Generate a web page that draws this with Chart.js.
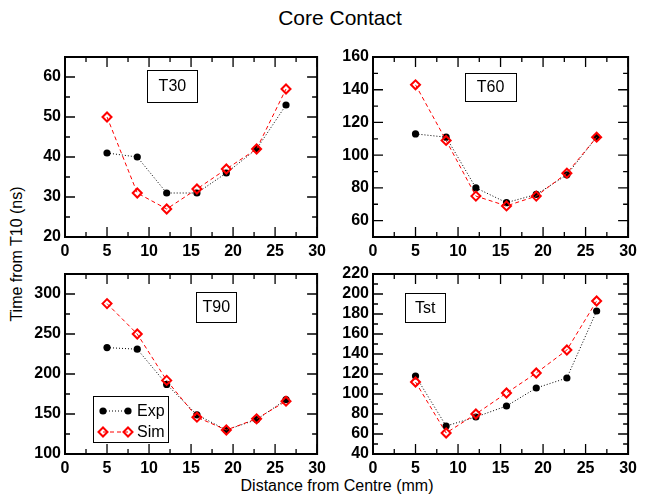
<!DOCTYPE html>
<html>
<head>
<meta charset="utf-8">
<script src="https://cdn.jsdelivr.net/npm/chart.js@4.4.1/dist/chart.umd.min.js"></script>
<style>
  body { margin: 0; background: #fff; width: 652px; height: 495px; position: relative; overflow: hidden;
         font-family: "Liberation Sans", Arial, sans-serif; color: #000; }
  canvas { position: absolute; }
  .title { position: absolute; left: 190px; width: 300px; top: 6px; text-align: center; font-size: 21px; }
  .xlabel { position: absolute; left: 187px; width: 300px; top: 477px; text-align: center; font-size: 16px; }
  .ylabel { position: absolute; left: -83px; width: 200px; top: 245px; text-align: center; font-size: 16px;
            transform: rotate(-90deg); }
</style>
</head>
<body>
<div class="title">Core Contact</div>
<div class="ylabel">Time from T10 (ns)</div>
<div class="xlabel">Distance from Centre (mm)</div>
<canvas id="p1"></canvas>
<canvas id="p2"></canvas>
<canvas id="p3"></canvas>
<canvas id="p4"></canvas>
<script>
// Data
const xDist = [5, 8.6, 12.1, 15.7, 19.2, 22.8, 26.3];
const xTicks = [0, 5, 10, 15, 20, 25, 30];

const t30Exp = [41, 40, 31, 31, 36, 42, 53];
const t30Sim = [50, 31, 27, 32, 37, 42, 57];
const t30Ticks = [20, 30, 40, 50, 60];

const t60Exp = [113, 111, 80, 71, 76, 88, 111];
const t60Sim = [143, 109, 75, 69, 75, 89, 111];
const t60Ticks = [60, 80, 100, 120, 140, 160];

const t90Exp = [233, 231, 187, 149, 130, 143, 168];
const t90Sim = [288, 250, 192, 146, 130, 144, 166];
const t90Ticks = [100, 150, 200, 250, 300];

const tstExp = [118, 68, 77, 88, 106, 116, 183];
const tstSim = [112, 61, 80, 101, 121, 144, 193];
const tstTicks = [40, 60, 80, 100, 120, 140, 160, 180, 200, 220];

const seriesNames = ['Exp', 'Sim'];

const FONT = '"Liberation Sans", Arial, sans-serif';
const PAD = { left: 65, right: 10, top: 17, bottom: 38 };

// frame, inward ticks, tag box and legend
const framePlugin = {
  id: 'frame',
  afterDatasetsDraw(chart, args, o) {
    const { ctx, chartArea: a, scales: { x, y } } = chart;
    ctx.save();
    ctx.strokeStyle = '#000';
    ctx.lineWidth = 1.3;
    ctx.beginPath();
    const minorVals = (s, step, major) => {
      const out = [];
      for (let v = s.min; v <= s.max + 1e-9; v += step) {
        if (!major.includes(Math.round(v * 100) / 100)) out.push(v);
      }
      return out;
    };
    const xMarks = (vals, len) => vals.forEach(v => {
      const px = x.getPixelForValue(v);
      ctx.moveTo(px, a.bottom); ctx.lineTo(px, a.bottom - len);
      ctx.moveTo(px, a.top); ctx.lineTo(px, a.top + len);
    });
    const yMarks = (vals, len) => vals.forEach(v => {
      const py = y.getPixelForValue(v);
      ctx.moveTo(a.left, py); ctx.lineTo(a.left + len, py);
      ctx.moveTo(a.right, py); ctx.lineTo(a.right - len, py);
    });
    xMarks(o.xMajor, 10);
    xMarks(minorVals(x, o.xMinor, o.xMajor), 5);
    yMarks(o.yMajor, 10);
    yMarks(minorVals(y, o.yMinor, o.yMajor), 5);
    ctx.stroke();

    ctx.lineWidth = 2;
    ctx.strokeRect(a.left, a.top, a.width, a.height);

    // tag box
    if (o.tag) {
      const t = o.tag;
      const cx = a.left + t.fx * a.width, cy = a.top + t.fy * a.height;
      ctx.lineWidth = 1;
      ctx.strokeRect(Math.round(cx - t.w / 2) + 0.5, Math.round(cy - t.h / 2) + 0.5, t.w, t.h);
      ctx.fillStyle = '#000';
      ctx.font = '16px ' + FONT;
      ctx.textAlign = 'center';
      ctx.textBaseline = 'middle';
      ctx.fillText(t.text, cx, cy + 1);
    }

    // legend
    if (o.legend) {
      const L = o.legend;
      const lx = a.left + L.dx, ly = a.top + L.dy;
      ctx.lineWidth = 1;
      ctx.strokeRect(Math.round(lx) + 0.5, Math.round(ly) + 0.5, L.w, L.h);
      const order = [1, 0];
      order.forEach((di, row) => {
        const ds = chart.data.datasets[di];
        const yy = ly + 15 + row * 21;
        const x1 = lx + 10, x2 = lx + 35;
        ctx.save();
        ctx.strokeStyle = ds.borderColor;
        ctx.lineWidth = ds.borderWidth;
        ctx.setLineDash(ds.borderDash);
        ctx.beginPath(); ctx.moveTo(x1, yy); ctx.lineTo(x2, yy); ctx.stroke();
        ctx.restore();
        [x1, x2].forEach(px => {
          ctx.save();
          ctx.fillStyle = ds.pointBackgroundColor;
          ctx.strokeStyle = ds.pointBorderColor;
          ctx.lineWidth = ds.pointBorderWidth;
          Chart.helpers.drawPoint(ctx, { pointStyle: ds.pointStyle, radius: ds.pointRadius,
                                         borderWidth: ds.pointBorderWidth, rotation: 0 }, px, yy);
          ctx.restore();
        });
        ctx.fillStyle = '#000';
        ctx.font = '16px ' + FONT;
        ctx.textAlign = 'left';
        ctx.textBaseline = 'middle';
        ctx.fillText(ds.label, lx + 44, yy + 1);
      });
    }
    ctx.restore();
  }
};

function makePanel(id, area, yMin, yMax, yTicks, yMinor, exp, sim, tag, legend) {
  const cv = document.getElementById(id);
  const w = area.right - area.left + PAD.left + PAD.right;
  const h = area.bottom - area.top + PAD.top + PAD.bottom;
  cv.width = w; cv.height = h;
  cv.style.left = (area.left - PAD.left) + 'px';
  cv.style.top = (area.top - PAD.top) + 'px';
  cv.style.width = w + 'px'; cv.style.height = h + 'px';

  const tickFont = { family: FONT, size: 16, weight: 'bold' };
  return new Chart(cv.getContext('2d'), {
    type: 'line',
    data: {
      datasets: [
        {
          label: seriesNames[1],
          data: xDist.map((d, i) => ({ x: d, y: sim[i] })),
          borderColor: '#ff0000', borderWidth: 1, borderDash: [4, 3],
          pointStyle: 'rectRot', pointRadius: 4.5, pointBorderWidth: 2,
          pointBorderColor: '#ff0000', pointBackgroundColor: 'rgba(255,255,255,0)',
          order: 0
        },
        {
          label: seriesNames[0],
          data: xDist.map((d, i) => ({ x: d, y: exp[i] })),
          borderColor: '#000', borderWidth: 1, borderDash: [1, 2],
          pointStyle: 'circle', pointRadius: 3.6, pointBorderWidth: 0,
          pointBorderColor: '#000', pointBackgroundColor: '#000',
          order: 1
        }
      ]
    },
    options: {
      responsive: false,
      animation: false,
      events: [],
      layout: { padding: { left: 0, right: PAD.right, top: PAD.top, bottom: 0 } },
      plugins: {
        legend: { display: false },
        tooltip: { enabled: false },
        frame: { xMajor: xTicks, xMinor: 2.5, yMajor: yTicks, yMinor: yMinor, tag: tag, legend: legend }
      },
      scales: {
        x: {
          type: 'linear', min: 0, max: 30,
          afterBuildTicks: s => { s.ticks = xTicks.map(v => ({ value: v })); },
          afterFit: s => { s.height = PAD.bottom; },
          grid: { display: false, drawTicks: false },
          border: { display: false },
          ticks: { color: '#000', font: tickFont, padding: 5, autoSkip: false, maxRotation: 0 }
        },
        y: {
          type: 'linear', min: yMin, max: yMax,
          afterBuildTicks: s => { s.ticks = yTicks.map(v => ({ value: v })); },
          afterFit: s => { s.width = PAD.left; },
          grid: { display: false, drawTicks: false },
          border: { display: false },
          ticks: { color: '#000', font: tickFont, padding: 4, autoSkip: false }
        }
      }
    },
    plugins: [framePlugin]
  });
}

makePanel('p1', { left: 65, right: 321, top: 57, bottom: 237 }, 20, 65, t30Ticks, 5, t30Exp, t30Sim,
  { text: 'T30', fx: 0.426, fy: 0.161, w: 50, h: 32 }, null);
makePanel('p2', { left: 373, right: 632, top: 57, bottom: 237 }, 50, 160, t60Ticks, 10, t60Exp, t60Sim,
  { text: 'T60', fx: 0.461, fy: 0.167, w: 51, h: 28 }, null);
makePanel('p3', { left: 65, right: 321, top: 274, bottom: 454 }, 100, 325, t90Ticks, 25, t90Exp, t90Sim,
  { text: 'T90', fx: 0.60, fy: 0.183, w: 40, h: 30 }, { dx: 28, dy: 122, w: 75, h: 46 });
makePanel('p4', { left: 373, right: 632, top: 274, bottom: 454 }, 40, 220, tstTicks, 10, tstExp, tstSim,
  { text: 'Tst', fx: 0.205, fy: 0.186, w: 40, h: 29 }, null);
</script>
</body>
</html>
